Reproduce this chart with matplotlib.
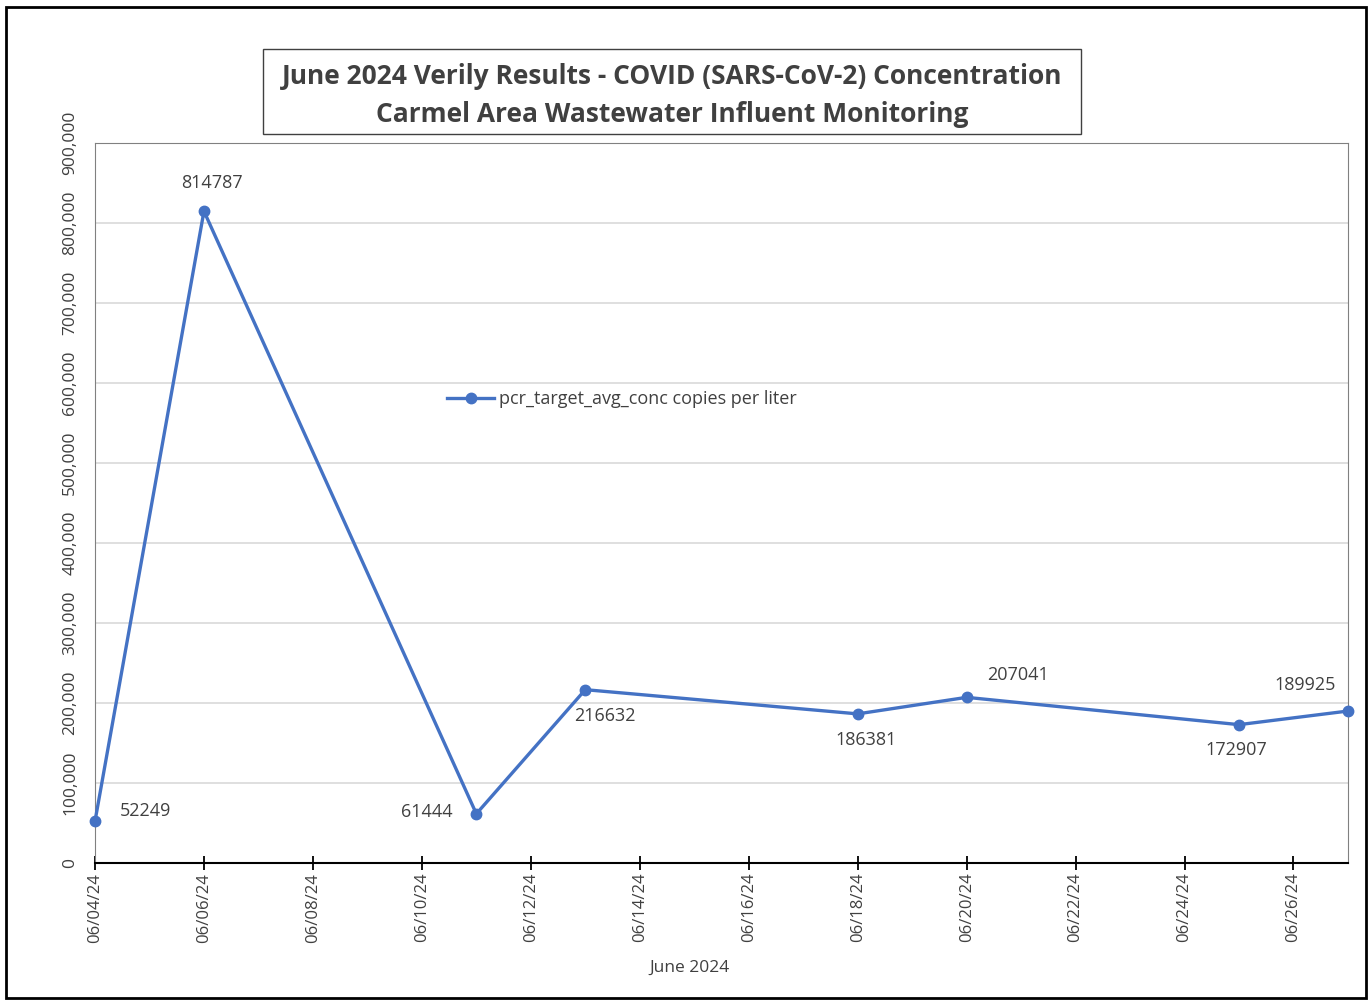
import pandas as pd
import matplotlib.pyplot as plt
import matplotlib.dates as mdates
from matplotlib.patches import Rectangle
from matplotlib.ticker import FuncFormatter

plt.rcParams["font.family"] = ["Open Sans", "DejaVu Sans"]

# data
dates = pd.to_datetime(["2024-06-04", "2024-06-06", "2024-06-11", "2024-06-13",
                        "2024-06-18", "2024-06-20", "2024-06-25", "2024-06-27"])
conc = [52249, 814787, 61444, 216632, 186381, 207041, 172907, 189925]
series_label = "pcr_target_avg_conc copies per liter"
title_lines = ["June 2024 Verily Results - COVID (SARS-CoV-2) Concentration",
               "Carmel Area Wastewater Influent Monitoring"]
x_label = "June 2024"

# label offsets in points (dx, dy, ha)
label_pos = [(18, 7, "left"), (6, 20, "center"), (-17, 1, "right"), (14, -19, "center"),
             (6, -19, "center"), (37, 16, "center"), (-2, -18, "center"), (-31, 19, "center")]

BLUE = "#4472C4"
GREY = "#404040"

fig = plt.figure(figsize=(13.71, 10.01), dpi=100)
ax = fig.add_axes([0.0693, 0.1379, 0.9139, 0.7192])

ax.plot(dates, conc, color=BLUE, lw=2.4, marker="o", ms=7.5, label=series_label,
        clip_on=False, zorder=3)

for d, v, (dx, dy, ha) in zip(dates, conc, label_pos):
    ax.annotate(str(v), (d, v), xytext=(dx, dy), textcoords="offset points",
                ha=ha, va="center", fontsize=13, color=GREY)

ax.set_xlim(pd.Timestamp("2024-06-04"), pd.Timestamp("2024-06-27"))
ax.set_ylim(0, 900000)
ax.set_yticks(range(0, 900001, 100000))
ax.yaxis.set_major_formatter(FuncFormatter(lambda v, p: f"{int(v):,}"))
ax.set_xticks(pd.date_range("2024-06-04", "2024-06-26", freq="2D"))
ax.xaxis.set_major_formatter(mdates.DateFormatter("%m/%d/%y"))

ax.grid(axis="y", color="#d9d9d9", lw=1.2)
ax.set_axisbelow(True)
for s in ["left", "top", "right"]:
    ax.spines[s].set_color("#808080")
    ax.spines[s].set_linewidth(0.8)
ax.spines["bottom"].set_color("black")
ax.spines["bottom"].set_linewidth(1.5)

ax.tick_params(axis="x", direction="inout", length=10, width=1.3, color="black",
               labelrotation=90, labelsize=12, labelcolor=GREY, pad=2)
ax.tick_params(axis="y", length=0, labelsize=12.5, labelcolor=GREY, pad=12)
for t in ax.get_yticklabels():
    t.set_rotation(90)
    t.set_va("center")

leg = ax.legend(loc="center left", bbox_to_anchor=(0.268, 0.644), frameon=False,
                prop={"size": 13}, handlelength=2.6, handletextpad=0.3, labelcolor=GREY)

fig.text(0.503, 0.033, x_label, ha="center", va="center", fontsize=12.5, color=GREY)

# title box
fig.patches.append(Rectangle((0.1918, 0.8661), 0.5967, 0.0849, transform=fig.transFigure,
                             fill=False, ec="#404040", lw=1.0))
fig.text(0.490, 0.924, title_lines[0], ha="center", va="center", fontsize=19,
         fontweight="bold", color=GREY)
fig.text(0.490, 0.886, title_lines[1], ha="center", va="center", fontsize=19,
         fontweight="bold", color=GREY)

# outer border
fig.patches.append(Rectangle((0.0047, 0.003), 0.9917, 0.990, transform=fig.transFigure,
                             fill=False, ec="black", lw=2.0))

fig.savefig("out.png", dpi=100)
